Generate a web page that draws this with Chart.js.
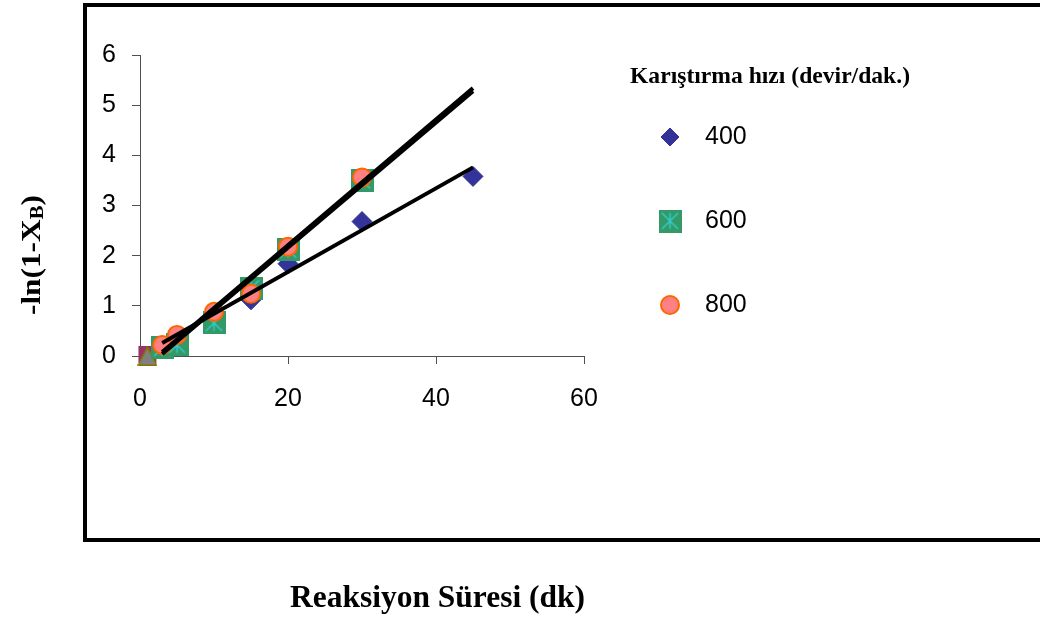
<!DOCTYPE html>
<html>
<head>
<meta charset="utf-8">
<script src="https://cdn.jsdelivr.net/npm/chart.js@4.4.0/dist/chart.umd.min.js"></script>
<style>
  html, body { margin: 0; padding: 0; background: #fff; }
  #wrap { width: 1040px; height: 619px; position: relative; }
</style>
</head>
<body>
<div id="wrap"><canvas id="kinetik"></canvas></div>
<script>
// -ln(1-XB) değerlerinin reaksiyon süresiyle değişimi (üç karıştırma hızı)
const sure = [3, 5, 10, 15, 20, 30, 45];
const sureKisa = [3, 5, 10, 15, 20, 30];
const y400 = [0.20, 0.30, 0.75, 1.12, 1.84, 2.68, 3.58];
const y600 = [0.16, 0.22, 0.66, 1.35, 2.12, 3.50];
const y800 = [0.22, 0.42, 0.88, 1.24, 2.18, 3.56];
const baslangicX = [1];
const baslangicY = [0];

// doğrusal eğilim çizgilerinin uç noktaları
const trendX = [3, 45];
const trend400 = [0.26, 3.76];
const trend600 = [0.04, 5.28];
const trend800 = [0.08, 5.34];

const xTicks = [0, 20, 40, 60];
const yTicks = [0, 1, 2, 3, 4, 5, 6];
const seriNames = ['400', '600', '800'];
const legendTitle = 'Karıştırma hızı (devir/dak.)';
const xTitle = 'Reaksiyon Süresi (dk)';

const pts = (xs, ys) => xs.map((x, i) => ({ x: x, y: ys[i] }));

// yeşil kare + camgöbeği yıldız işaretçisi
function kareYildiz(size) {
  const c = document.createElement('canvas');
  c.width = size; c.height = size;
  const g = c.getContext('2d');
  g.fillStyle = '#339966';
  g.fillRect(0, 0, size, size);
  g.strokeStyle = '#33CCCC';
  g.lineWidth = 1.5;
  const m = size / 2, a = size * 0.15, b = size * 0.85;
  g.beginPath();
  g.moveTo(m, a); g.lineTo(m, b);
  g.moveTo(a, a); g.lineTo(b, b);
  g.moveTo(b, a); g.lineTo(a, b);
  g.stroke();
  return c;
}

// t=0 noktası: mor kare üstünde gri üçgen
function kareUcgen(size) {
  const c = document.createElement('canvas');
  c.width = size; c.height = size;
  const g = c.getContext('2d');
  g.fillStyle = '#993366';
  g.fillRect(1, 0, size - 2, size);
  g.fillStyle = '#808080';
  g.strokeStyle = '#808000';
  g.lineWidth = 1.5;
  g.beginPath();
  g.moveTo(size / 2, 1.5);
  g.lineTo(size - 1, size - 1);
  g.lineTo(1, size - 1);
  g.closePath();
  g.fill();
  g.stroke();
  return c;
}

const kare = kareYildiz(23);
const baslangic = kareUcgen(20);

const sans = '"Liberation Sans", Arial, sans-serif';
const serif = '"Liberation Serif", "Times New Roman", serif';
const axisColor = '#505050';

function trendSet(label, ys) {
  return {
    label: label, type: 'line', data: pts(trendX, ys),
    borderColor: '#000', borderWidth: 4, pointRadius: 0,
    showLine: true, fill: false, order: 0, clip: false
  };
}

// metni verilen genişliğe sığdırarak çizer
function fitText(ctx, text, x, y, width) {
  const w = ctx.measureText(text).width;
  ctx.save();
  ctx.translate(x, y);
  ctx.scale(width / w, 1);
  ctx.fillText(text, 0, 0);
  ctx.restore();
}

const ekler = {
  id: 'ekler',
  afterDraw(chart) {
    const ctx = chart.ctx;
    ctx.save();
    // dış çerçeve
    ctx.strokeStyle = '#000';
    ctx.lineWidth = 4;
    ctx.strokeRect(85, 5, 1000, 535);

    // lejant
    ctx.fillStyle = '#000';
    ctx.textBaseline = 'alphabetic';
    ctx.textAlign = 'left';
    ctx.font = 'bold 24px ' + serif;
    fitText(ctx, legendTitle, 630, 83, 280);

    const rows = [137, 221, 305];
    seriNames.forEach((name, i) => {
      const ds = chart.data.datasets.find(d => d.label === name);
      ctx.fillStyle = ds.backgroundColor || '#000';
      ctx.strokeStyle = ds.borderColor || '#000';
      ctx.lineWidth = ds.borderWidth || 0;
      Chart.helpers.drawPoint(ctx, {
        pointStyle: ds.pointStyle, radius: name === '400' ? 9 : ds.pointRadius,
        rotation: 0, borderWidth: ds.borderWidth || 0
      }, 670, rows[i]);
      ctx.fillStyle = '#000';
      ctx.font = '25px ' + sans;
      ctx.textBaseline = 'middle';
      ctx.fillText(name, 705, rows[i]);
    });

    // x ekseni başlığı
    ctx.textBaseline = 'alphabetic';
    ctx.font = 'bold 32px ' + serif;
    fitText(ctx, xTitle, 290, 607, 295);

    // y ekseni başlığı: -ln(1-X_B)
    ctx.translate(40, 315);
    ctx.rotate(-Math.PI / 2);
    const big = 'bold 27px ' + serif, small = 'bold 18px ' + serif;
    ctx.font = big;
    const w1 = ctx.measureText('-ln(1-X').width;
    const w3 = ctx.measureText(')').width;
    ctx.font = small;
    const w2 = ctx.measureText('B').width;
    const k = 120 / (w1 + w2 + w3);
    ctx.scale(k, 1);
    ctx.font = big;
    ctx.fillText('-ln(1-X', 0, 0);
    ctx.font = small;
    ctx.fillText('B', w1, 3);
    ctx.font = big;
    ctx.fillText(')', w1 + w2, 0);
    ctx.restore();
  }
};

new Chart(document.getElementById('kinetik'), {
  type: 'scatter',
  data: {
    datasets: [
      trendSet('Doğrusal (400)', trend400),
      trendSet('Doğrusal (600)', trend600),
      trendSet('Doğrusal (800)', trend800),
      {
        label: '800', data: pts(sureKisa, y800), pointStyle: 'circle',
        pointRadius: 9, backgroundColor: '#FF8080', borderColor: '#FF6600',
        borderWidth: 2, order: 1, clip: false
      },
      {
        label: '600', data: pts(sureKisa, y600), pointStyle: kare,
        pointRadius: 12, order: 2, clip: false
      },
      {
        label: '400', data: pts(sure, y400), pointStyle: 'rectRot',
        pointRadius: 10, backgroundColor: '#333399', borderColor: '#333399',
        borderWidth: 1, order: 3, clip: false
      },
      {
        label: 't0', data: pts(baslangicX, baslangicY), pointStyle: baslangic,
        pointRadius: 10, order: 4, clip: false
      }
    ]
  },
  options: {
    responsive: true,
    maintainAspectRatio: false,
    animation: false,
    events: [],
    layout: { padding: { left: 100, right: 456, top: 55, bottom: 213 } },
    plugins: { legend: { display: false }, tooltip: { enabled: false } },
    scales: {
      x: {
        type: 'linear', min: 0, max: 60,
        afterBuildTicks: s => { s.ticks = xTicks.map(v => ({ value: v })); },
        afterFit: s => { s.height = 50; },
        grid: { drawOnChartArea: false, tickLength: 8, color: axisColor },
        border: { color: axisColor, width: 1 },
        ticks: { font: { family: sans, size: 25 }, color: '#000', padding: 20, maxRotation: 0 }
      },
      y: {
        type: 'linear', min: 0, max: 6,
        afterBuildTicks: s => { s.ticks = yTicks.map(v => ({ value: v })); },
        afterFit: s => { s.width = 40; },
        grid: { drawOnChartArea: false, tickLength: 8, color: axisColor },
        border: { color: axisColor, width: 1 },
        ticks: { font: { family: sans, size: 25 }, color: '#000', padding: 16 }
      }
    }
  },
  plugins: [ekler]
});
</script>
</body>
</html>
